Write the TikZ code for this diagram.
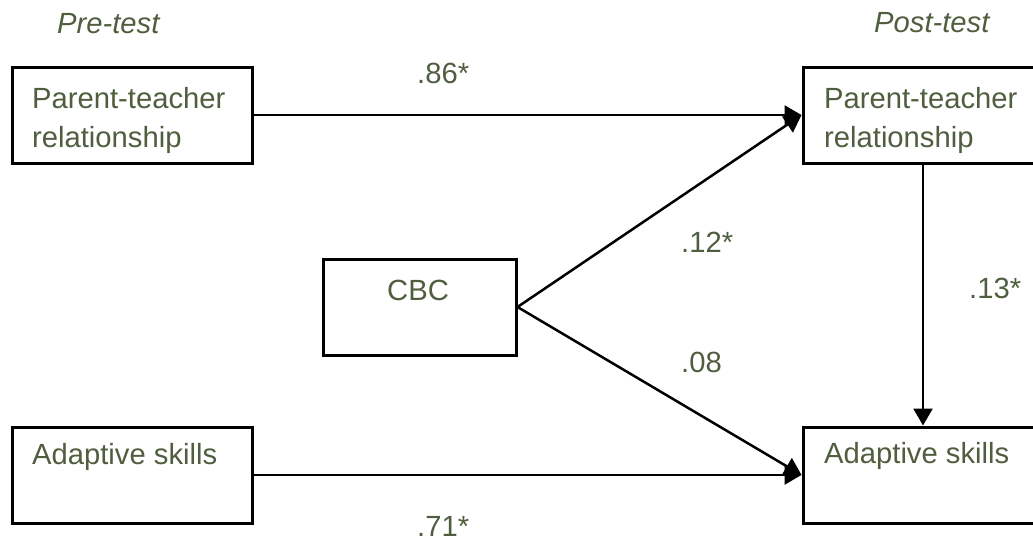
\documentclass[tikz,border=0pt]{standalone}
\usepackage{fontspec}
\setmainfont{Liberation Sans}
\usetikzlibrary{arrows.meta}
\definecolor{txtgreen}{RGB}{79,94,62}
\tikzset{
  box/.style={draw=black, line width=3pt, fill=white, inner sep=0pt, rectangle},
  lbl/.style={text=txtgreen, anchor=base west, inner sep=0pt, font=\fontsize{29.2}{38.5}\selectfont},
  conn/.style={line width=2.5pt, -{Triangle[length=17pt,width=19pt]}},
}
\begin{document}
\begin{tikzpicture}[x=1pt,y=-1pt]
\useasboundingbox (0,0) rectangle (1033,544);
\clip (0,0) rectangle (1033,544);
\node[box, minimum width=240pt, minimum height=96pt] (prePT) at (132,115) {};
\node[box, minimum width=240pt, minimum height=96pt] (preAS) at (132,475) {};
\node[box, minimum width=193pt, minimum height=96pt] (cbc) at (419.5,307) {};
\node[box, minimum width=240pt, minimum height=96pt] (postPT) at (923,115) {};
\node[box, minimum width=240pt, minimum height=96pt] (postAS) at (923,475) {};

\node[lbl, font=\fontsize{29.2}{38.5}\selectfont\itshape] (pre) at (57,33) {Pre-test};
\node[lbl, font=\fontsize{29.2}{38.5}\selectfont\itshape] (post) at (874,32) {Post-test};

\node[lbl, align=left] (tPrePT) at (32,147) {Parent-teacher\\relationship};
\node[lbl, align=left] (tPostPT) at (824,147) {Parent-teacher\\relationship};
\node[lbl] (tCBC) at (387,300) {CBC};
\node[lbl] (tPreAS) at (32,464) {Adaptive skills};
\node[lbl] (tPostAS) at (824,463) {Adaptive skills};

\draw[conn] (prePT.east) -- (postPT.west);
\draw[conn] (cbc.east) -- (postPT.west);
\draw[conn] (cbc.east) -- (postAS.west);
\draw[conn] (preAS.east) -- (postAS.west);
\draw[conn] (postPT.south) -- (postAS.north);

\node[lbl] (l86) at (417,83) {.86*};
\node[lbl] (l12) at (681,252) {.12*};
\node[lbl] (l08) at (681,372) {.08};
\node[lbl] (l71) at (417,536) {.71*};
\node[lbl] (l13) at (969,298) {.13*};
\end{tikzpicture}
\end{document}
